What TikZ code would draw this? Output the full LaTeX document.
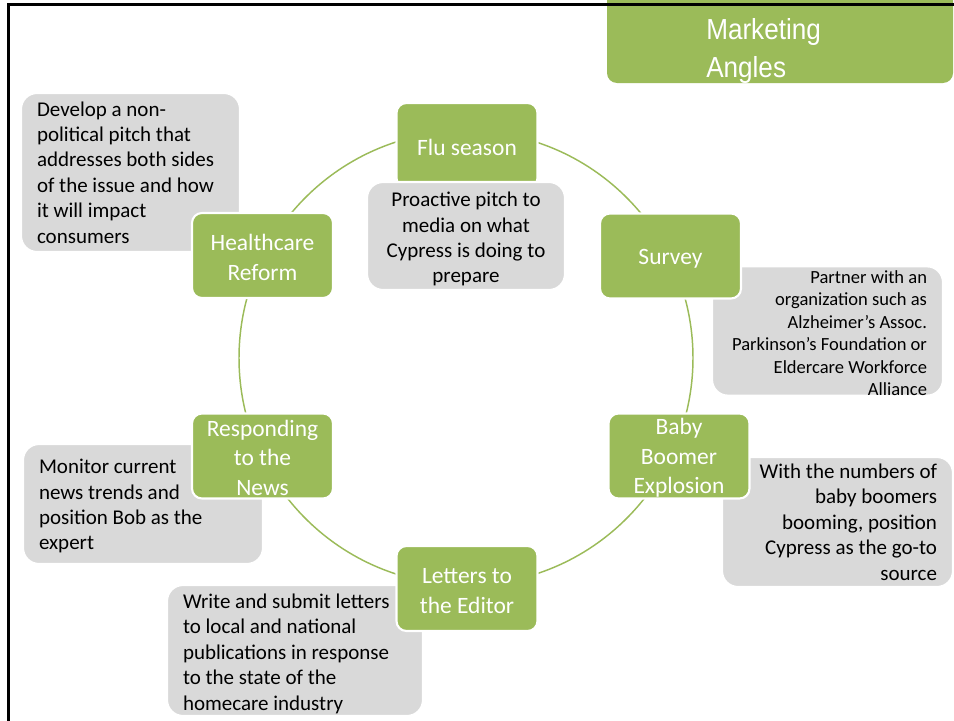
\documentclass[tikz,border=0pt]{standalone}
\usepackage{fontspec}
\setmainfont{Carlito}
\newfontfamily\titlefont[FakeStretch=0.9]{Liberation Sans}
\definecolor{leaf}{HTML}{9BBB59}
\definecolor{pebble}{HTML}{D9D9D9}

\begin{document}
\begin{tikzpicture}[x=0.75pt,y=-0.75pt,
  % a tall invisible strut on the first line lowers the text block in its box
  dropby/.style={execute at begin node={\rule{0pt}{#1}}},
  topic/.style={fill=leaf, draw=white, line width=1.6pt, rounded corners=7.5pt,
    minimum width=105.75pt, minimum height=63.75pt, inner sep=0pt,
    text width=104pt, text=white, align=flush center,
    font=\fontsize{17.6pt}{22pt}\selectfont, dropby=15pt},
  note/.style={fill=pebble, draw=white, line width=1.6pt, rounded corners=12pt,
    inner xsep=12pt, inner ysep=0pt, text=black,
    font=\fontsize{15.75pt}{19.1pt}\selectfont},
  ring/.style={draw=leaf, line width=1.1pt},
  frame/.style={draw=black, line width=2.25pt},
]
\useasboundingbox (0,0) rectangle (954,721);
\clip (0,0) rectangle (954,721);

% title banner hanging from the top edge
\fill[leaf, rounded corners=7.5pt] (607,-20) -- (607,83) -- (953,83) -- (953,-20) -- cycle;
\node[anchor=base west, inner sep=0pt, text=white, text width=200pt, align=flush left,
  font=\titlefont\fontsize{21.75pt}{28.5pt}\selectfont] (title) at (706,39) {Marketing\\Angles};

% the cycle ring behind the topics
\draw[ring] (466,358) circle [radius=170.25pt];

% descriptions that sit underneath their topic boxes
\node[note, minimum width=164.25pt, minimum height=119.25pt, text width=140.25pt, align=flush left]
  (hcnote) at (130.5,172.5)
  {Develop a non-\\political pitch that\\addresses both sides\\of the issue and how\\it will impact\\consumers};
\node[note, minimum width=173.25pt, minimum height=93pt, text width=149.25pt, align=flush right,
  font=\fontsize{13.9pt}{16.8pt}\selectfont, dropby=12.9pt]
  (svnote) at (827.5,331)
  {Partner with an\\organization such as\\Alzheimer’s Assoc.\\Parkinson’s Foundation or\\Eldercare Workforce\\Alliance};
\node[note, minimum width=173.25pt, minimum height=97.5pt, text width=149.25pt, align=flush right]
  (bbnote) at (837.5,522)
  {With the numbers of\\baby boomers\\booming, position\\Cypress as the go-to\\source};
\node[note, minimum width=180pt, minimum height=90pt, text width=156pt, align=flush left, dropby=14.2pt]
  (rnnote) at (143,504)
  {Monitor current\\news trends and\\position Bob as the\\expert};
\node[note, minimum width=192pt, minimum height=98.25pt, text width=168pt, align=flush left, dropby=15.7pt]
  (lenote) at (295,650.5)
  {Write and submit letters\\to local and national\\publications in response\\to the state of the\\homecare industry};

% topic boxes on the ring
\node[topic] (flu) at (467,145.5) {Flu season};
\node[topic] (hc)  at (262.5,255.5) {Healthcare\\Reform};
\node[topic] (sv)  at (670.5,256) {Survey};
\node[topic] (bb)  at (679,456) {Baby\\Boomer\\Explosion};
\node[topic] (rn)  at (262.5,456) {Responding\\to the\\News};
\node[topic] (le)  at (467,588.5) {Letters to\\the Editor};

% the flu description lies over its topic box
\node[note, minimum width=148.5pt, minimum height=81pt, text width=124.5pt, align=flush center, dropby=15.7pt]
  (flunote) at (466,236)
  {Proactive pitch to\\media on what\\Cypress is doing to\\prepare};

% slide frame along the top and left edges
\draw[frame] (8.5,721) -- (8.5,4.5) -- (954,4.5);
\end{tikzpicture}
\end{document}
